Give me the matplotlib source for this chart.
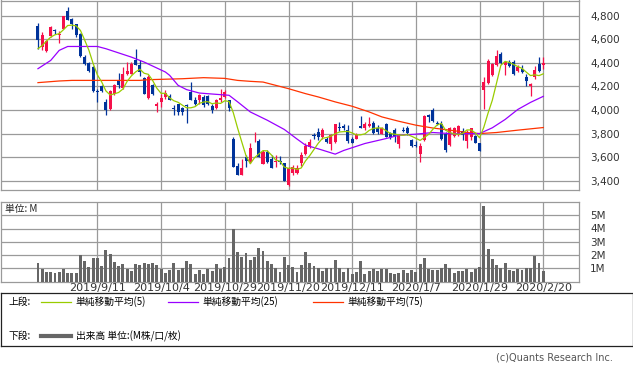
import matplotlib
matplotlib.use('Agg')
import matplotlib.pyplot as plt
import numpy as np
import pandas as pd

# daily OHLC (yen), 120 sessions ending 2020/2/20
opens = [4707, 4533, 4499, 4623, 4679, 4631, 4687, 4842, 4772, 4724,
         4645, 4448, 4398, 4364, 4161, 4201, 4069, 4012, 4133, 4251,
         4190, 4302, 4302, 4426, 4378, 4274, 4105, 4209, 4038, 4069,
         4111, 4116, 4018, 4049, 4021, 4046, 4153, 4083, 4083, 4111,
         4116, 4032, 4021, 4083, 4111, 4083, 3751, 3526, 3447, 3604,
         3562, 3768, 3737, 3540, 3647, 3582, 3557, 3571, 3548, 3365,
         3464, 3464, 3548, 3627, 3689, 3793, 3815, 3768, 3759, 3717,
         3731, 3858, 3863, 3830, 3751, 3759, 3863, 3844, 3863, 3892,
         3852, 3801, 3886, 3807, 3835, 3717, 3835, 3844, 3745, 3700,
         3627, 3745, 3956, 3998, 3892, 3886, 3801, 3703, 3782, 3787,
         3824, 3740, 3773, 3779, 3723, 4167, 4229, 4294, 4378, 4475,
         4378, 4406, 4410, 4330, 4350, 4280, 4201, 4280, 4392, 4378]
highs = [4735, 4659, 4595, 4712, 4687, 4668, 4800, 4876, 4780, 4730,
         4651, 4462, 4406, 4370, 4181, 4209, 4097, 4167, 4223, 4313,
         4364, 4406, 4406, 4519, 4420, 4280, 4294, 4223, 4069, 4139,
         4167, 4139, 4040, 4055, 4026, 4055, 4237, 4111, 4133, 4125,
         4125, 4055, 4097, 4181, 4172, 4088, 3773, 3548, 3582, 3618,
         3717, 3815, 3751, 3661, 3661, 3618, 3618, 3610, 3554, 3520,
         3534, 3534, 3641, 3717, 3759, 3807, 3852, 3852, 3768, 3801,
         3886, 3900, 3886, 3872, 3773, 3807, 3948, 3900, 3937, 3908,
         3872, 3858, 3892, 3815, 3844, 3801, 3858, 3863, 3759, 3737,
         3717, 3956, 3970, 4020, 3908, 3908, 3815, 3858, 3858, 3872,
         3844, 3830, 3852, 3787, 3723, 4280, 4434, 4398, 4510, 4491,
         4415, 4420, 4420, 4378, 4378, 4308, 4229, 4370, 4448, 4448]
lows = [4519, 4510, 4491, 4617, 4645, 4567, 4682, 4758, 4687, 4617,
        4448, 4378, 4322, 4153, 4069, 4153, 3956, 4004, 4125, 4190,
        4181, 4294, 4302, 4378, 4285, 4133, 4094, 4125, 3984, 4026,
        4097, 4083, 3962, 3956, 3962, 3894, 4083, 4040, 4055, 4026,
        4040, 3976, 4012, 4069, 4105, 3993, 3520, 3447, 3447, 3520,
        3548, 3731, 3604, 3540, 3548, 3506, 3520, 3540, 3399, 3357,
        3450, 3458, 3527, 3619, 3675, 3759, 3745, 3759, 3723, 3666,
        3723, 3824, 3835, 3723, 3717, 3751, 3844, 3835, 3858, 3796,
        3796, 3796, 3768, 3751, 3731, 3683, 3815, 3787, 3689, 3689,
        3557, 3740, 3900, 3900, 3872, 3745, 3641, 3697, 3773, 3782,
        3745, 3683, 3745, 3717, 3655, 4012, 4223, 4285, 4370, 4392,
        4294, 4364, 4294, 4322, 4313, 4201, 4116, 4265, 4322, 4344]
closes = [4595, 4631, 4583, 4707, 4668, 4645, 4794, 4763, 4724, 4634,
          4454, 4386, 4330, 4161, 4153, 4161, 4004, 4161, 4209, 4209,
          4308, 4327, 4392, 4378, 4322, 4139, 4280, 4133, 4049, 4105,
          4144, 4088, 4007, 3984, 3984, 4032, 4088, 4055, 4125, 4040,
          4049, 3998, 4088, 4105, 4153, 4021, 3520, 3447, 3506, 3571,
          3683, 3776, 3604, 3647, 3562, 3506, 3565, 3557, 3399, 3506,
          3520, 3506, 3619, 3697, 3731, 3779, 3768, 3830, 3731, 3787,
          3880, 3844, 3844, 3740, 3723, 3793, 3852, 3886, 3886, 3807,
          3815, 3844, 3773, 3768, 3779, 3787, 3824, 3807, 3694, 3694,
          3697, 3948, 3939, 3908, 3880, 3759, 3660, 3844, 3849, 3863,
          3787, 3815, 3844, 3723, 3655, 4237, 4415, 4386, 4454, 4398,
          4406, 4370, 4302, 4364, 4322, 4246, 4223, 4336, 4330, 4398]
# volume, millions of shares
volume = [1.38, 0.95, 0.69, 0.69, 0.62, 0.69, 0.97, 0.62, 0.62, 0.62,
          1.97, 1.56, 1.08, 1.77, 1.77, 1.20, 2.38, 2.08, 1.46, 1.15,
          1.31, 0.95, 0.79, 1.31, 1.23, 1.38, 1.31, 1.38, 1.23, 0.95,
          0.62, 0.85, 1.38, 0.87, 1.00, 1.54, 1.31, 0.54, 0.85, 0.54,
          0.95, 0.79, 1.31, 0.95, 1.08, 1.77, 3.95, 2.23, 1.85, 2.15,
          1.62, 1.85, 2.54, 2.33, 1.56, 1.31, 1.00, 0.69, 1.85, 1.26,
          1.13, 0.69, 1.26, 2.23, 1.38, 1.15, 1.05, 0.79, 1.05, 1.05,
          1.64, 1.00, 0.69, 1.05, 0.54, 0.69, 1.56, 0.54, 0.79, 0.95,
          0.79, 0.95, 0.95, 0.62, 0.54, 0.62, 0.85, 0.62, 0.85, 0.69,
          1.31, 1.77, 0.95, 0.87, 0.87, 1.05, 1.31, 1.00, 0.62, 0.79,
          0.79, 0.95, 0.69, 0.95, 1.08, 5.69, 2.46, 1.69, 1.23, 1.00,
          1.38, 0.87, 0.79, 0.95, 0.87, 1.00, 1.00, 1.95, 1.38, 0.77]

# first four 5-day averages need earlier sessions
ma5_head = [4519, 4547, 4583, 4617]
ma25_idx = [0, 3, 5, 7, 14, 16, 22, 25, 30, 31, 33, 35, 38, 42, 45, 47,
            50, 54, 58, 61, 63, 66, 70, 72, 77, 82, 85, 89, 93, 97, 104,
            107, 110, 113, 116, 119]
ma25_val = [4350, 4420, 4505, 4538, 4538, 4519, 4448, 4406, 4322, 4294,
            4209, 4173, 4144, 4133, 4125, 4070, 3984, 3914, 3836, 3755,
            3703, 3672, 3627, 3658, 3717, 3759, 3787, 3796, 3810, 3801,
            3801, 3850, 3920, 4005, 4065, 4116]
ma75_idx = [0, 5, 8, 24, 26, 34, 39, 44, 47, 50, 53, 56, 59, 63, 66, 70,
            74, 78, 81, 85, 89, 93, 97, 101, 104, 108, 113, 119]
ma75_val = [4232, 4246, 4251, 4251, 4257, 4265, 4274, 4268, 4251, 4243,
            4237, 4209, 4181, 4139, 4111, 4069, 4032, 3984, 3942, 3905,
            3872, 3848, 3830, 3810, 3801, 3810, 3830, 3852]

tick_idx = [14, 29, 44, 59, 74, 89, 104, 119]
tick_labels = ['2019/9/11', '2019/10/4', '2019/10/29', '2019/11/20',
               '2019/12/11', '2020/1/7', '2020/1/29', '2020/2/20']
price_ticks = [3400, 3600, 3800, 4000, 4200, 4400, 4600, 4800]
vol_ticks = [1, 2, 3, 4, 5]

UP = '#f5104a'
DOWN = '#00339a'
GRID = '#9a9a9a'
JP = ['Noto Sans CJK JP', 'DejaVu Sans']
W, H = 633, 373


def px_axes(fig, left, top, right, bottom):
    return fig.add_axes([left / W, 1 - bottom / H, (right - left) / W, (bottom - top) / H])


def style_panel(ax):
    for s in ax.spines.values():
        s.set_color(GRID)
        s.set_linewidth(0.9)
    ax.grid(True, color=GRID, lw=0.9)
    ax.set_axisbelow(True)
    ax.set_xticks(tick_idx)
    ax.tick_params(axis='y', length=0, pad=8, labelleft=False, labelright=True,
                   labelsize=7.5, labelcolor='#333333')
    ax.tick_params(axis='x', length=0)


if __name__ == '__main__':
    o = np.array(opens)
    c = np.array(closes)
    x = np.arange(len(c))
    ma5 = pd.Series(c, dtype=float).rolling(5).mean().to_numpy()
    ma5[:4] = ma5_head

    fig = plt.figure(figsize=(W / 100, H / 100), dpi=100)
    xlim = (-37.5 / 4.25, (579 - 37.5) / 4.25)

    # price panel
    ax = px_axes(fig, 0.5, 0.5, 579, 190.3)
    style_panel(ax)
    colors = np.where(c >= o, UP, DOWN)
    ax.vlines(x, lows, highs, colors=colors, lw=0.9, zorder=2)
    body_lo = np.minimum(o, c)
    body_h = np.maximum(np.abs(c - o), 7)
    ax.bar(x, body_h, bottom=body_lo, width=0.72, color=colors, zorder=3)
    ax.plot(ma75_idx, ma75_val, color='#ff3300', lw=0.9, zorder=4)
    ax.plot(ma25_idx, ma25_val, color='#9900ff', lw=0.9, zorder=4)
    ax.plot(x, ma5, color='#99cc00', lw=0.9, zorder=5)
    ax.set_xlim(*xlim)
    ax.set_ylim(3321, 4927)
    ax.set_yticks(price_ticks)
    ax.set_yticklabels([f'{v:,}' for v in price_ticks])
    ax.set_xticklabels([])

    # volume panel
    axv = px_axes(fig, 0.5, 202, 579, 281.5)
    style_panel(axv)
    axv.bar(x, volume, width=0.68, color='#666666', zorder=3)
    axv.set_xlim(*xlim)
    axv.set_ylim(0, 6)
    axv.set_yticks(vol_ticks)
    axv.set_yticklabels([f'{v}M' for v in vol_ticks])
    axv.set_xticklabels(tick_labels, fontsize=8, color='#333333')
    axv.tick_params(axis='x', pad=1)
    axv.text(5 / 579, 0.91, '単位: M', transform=axv.transAxes, fontsize=7,
             family=JP, va='center', ha='left', color='#222222')

    # legend box
    axl = px_axes(fig, 0.5, 293, 632.5, 346)
    axl.set_xlim(0, 632)
    axl.set_ylim(346 - 293, 0)
    axl.set_xticks([])
    axl.set_yticks([])
    for s in axl.spines.values():
        s.set_color('#222222')
        s.set_linewidth(0.9)
    ty1, ty2 = 9, 43
    axl.text(8, ty1, '上段:', family=JP, fontsize=7, va='center')
    axl.text(8, ty2, '下段:', family=JP, fontsize=7, va='center')
    for x0, col, lab in [(40, '#99cc00', '単純移動平均(5)'),
                         (167, '#9900ff', '単純移動平均(25)'),
                         (312, '#ff3300', '単純移動平均(75)')]:
        axl.plot([x0, x0 + 30], [ty1, ty1], color=col, lw=0.9)
        axl.text(x0 + 35, ty1, lab, family=JP, fontsize=7, va='center')
    axl.plot([40, 70], [ty2, ty2], color='#666666', lw=3)
    axl.text(75, ty2, '出来高 単位:(M株/口/枚)', family=JP, fontsize=7, va='center')

    fig.text(613 / W, 1 - 357 / H, '(c)Quants Research Inc.', ha='right', va='center',
             fontsize=7, color='#555555')

    fig.savefig('out.png', dpi=100)
